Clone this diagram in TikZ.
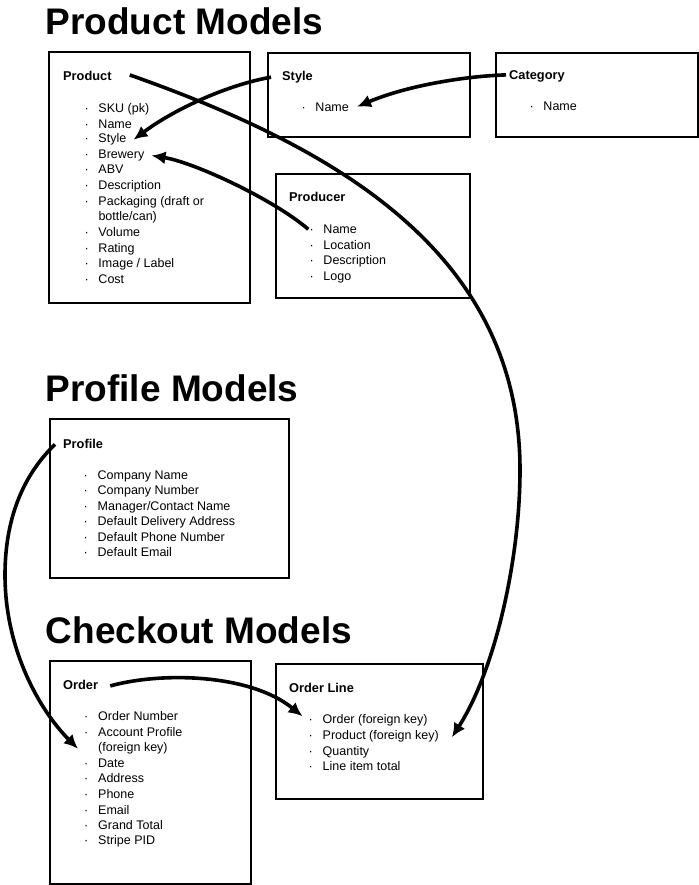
\documentclass[tikz,border=0pt]{standalone}
\usepackage{fontspec}
\setmainfont{Liberation Sans}
\usetikzlibrary{calc, arrows.meta}

\begin{document}
\begin{tikzpicture}[x=1pt,y=-1pt,inner sep=1pt,>={Latex[length=14pt,width=13pt]},
  heading/.style={anchor=base west,font=\bfseries\fontsize{37}{40}\selectfont},
  box/.style={draw,line width=1.9pt,anchor=north west,inner sep=0pt},
  title/.style={anchor=base west,font=\bfseries\fontsize{12.8}{15}\selectfont},
  field/.style={anchor=base west,font=\fontsize{12.5}{15}\selectfont,execute at begin node={\makebox[14pt][l]{·}}},
  wrap/.style={anchor=base west,font=\fontsize{12.5}{15}\selectfont},
  link/.style={->,line width=3.6pt}]
\useasboundingbox (0,0) rectangle (698,885);

% product models
\node [heading] (HProduct) at (44.5,34.5) {Product Models};
\node [box,minimum width=201pt,minimum height=251pt] (ProductBox) at (48,51) {};
\node [box,minimum width=202pt,minimum height=84pt] (StyleBox) at (267,52) {};
\node [box,minimum width=202pt,minimum height=84pt] (CategoryBox) at (495,52) {};
\node [box,minimum width=194pt,minimum height=124pt] (ProducerBox) at (275,173) {};

\node [title] (PTitle) at (62,80.5) {Product};
\node [field] (PSku)   at (83.3,113)   {SKU (pk)};
\node [field] (PName)  at (83.3,128.5) {Name};
\node [field] (PStyle) at (83.3,143)   {Style};
\node [field] (PBrew)  at (83.3,158.5) {Brewery};
\node [field] (PAbv)   at (83.3,174)   {ABV};
\node [field] (PDesc)  at (83.3,189.5) {Description};
\node [field] (PPack)  at (83.3,205.5) {Packaging (draft or};
\node [wrap]  (PPack2) at (97.3,221)   {bottle/can)};
\node [field] (PVol)   at (83.3,236.5) {Volume};
\node [field] (PRate)  at (83.3,252)   {Rating};
\node [field] (PImg)   at (83.3,267.5) {Image / Label};
\node [field] (PCost)  at (83.3,283)   {Cost};

\node [title] (STitle) at (281,80.5) {Style};
\node [field] (SName)  at (300.3,112) {Name};

\node [title] (CTitle) at (508,80) {Category};
\node [field] (CName)  at (528.3,111) {Name};

\node [title] (PrTitle) at (288,201.5) {Producer};
\node [field] (PrName)  at (308.3,233.5) {Name};
\node [field] (PrLoc)   at (308.3,249)   {Location};
\node [field] (PrDesc)  at (308.3,264.5) {Description};
\node [field] (PrLogo)  at (308.3,280)   {Logo};

% profile models
\node [heading] (HProfile) at (44.5,401.5) {Profile Models};
\node [box,minimum width=239pt,minimum height=159pt] (ProfileBox) at (49,418) {};
\node [title] (PrfTitle) at (62,448) {Profile};
\node [field] (PrfCo)    at (82.5,479.5) {Company Name};
\node [field] (PrfNum)   at (82.5,494.5) {Company Number};
\node [field] (PrfMgr)   at (82.5,510)   {Manager/Contact Name};
\node [field] (PrfAddr)  at (82.5,525.8) {Default Delivery Address};
\node [field] (PrfPhone) at (82.5,541)   {Default Phone Number};
\node [field] (PrfMail)  at (82.5,556.8) {Default Email};

% checkout models
\node [heading] (HCheckout) at (44.5,643) {Checkout Models};
\node [box,minimum width=201pt,minimum height=223pt] (OrderBox) at (49,660) {};
\node [box,minimum width=207pt,minimum height=135pt] (LineBox) at (275,663) {};

\node [title] (OTitle) at (62,689.5) {Order};
\node [field] (ONum)   at (83,720)   {Order Number};
\node [field] (OAcct)  at (83,736)   {Account Profile};
\node [wrap]  (OFk)    at (97,751)   {(foreign key)};
\node [field] (ODate)  at (83,767)   {Date};
\node [field] (OAddr)  at (83,782)   {Address};
\node [field] (OPhone) at (83,798)   {Phone};
\node [field] (OMail)  at (83,814)   {Email};
\node [field] (OTotal) at (83,829)   {Grand Total};
\node [field] (OStripe) at (83,844.5) {Stripe PID};

\node [title] (OLTitle) at (288,692.8) {Order Line};
\node [field] (OLOrder) at (307.5,723.5) {Order (foreign key)};
\node [field] (OLProd)  at (307.5,739.5) {Product (foreign key)};
\node [field] (OLQty)   at (307.5,755)   {Quantity};
\node [field] (OLTotal) at (307.5,770.5) {Line item total};

% links
\coordinate (swing) at (520,470);
\coordinate (loop) at (5,575);
\draw [link] ($(STitle.west)+(-10,0)$) .. controls ($(STitle.west)+(-55,8)$) and ($(PStyle.east)+(46,-30)$) .. ($(PStyle.east)+(6,0)$);
\draw [link] ($(CTitle.west)+(-2,-2)$) .. controls ($(CTitle.west)+(-39,-1)$) and ($(SName.east)+(59,-23)$) .. ($(SName.east)+(7,-1)$);
\draw [link] (PrName.west) .. controls ($(PrName.west)+(-35,-30)$) and ($(PBrew.east)+(49,7)$) .. ($(PBrew.east)+(6,0)$);
\draw [link] ($(PTitle.east)+(17,-1)$) .. controls ($(PTitle.east)+(218,70)$) and ($(swing)+(0,-220)$) .. (swing)
  .. controls ($(swing)+(0,90)$) and ($(OLProd.east)+(55,-66)$) .. ($(OLProd.east)+(12,1)$);
\draw [link] ($(PrfTitle.west)+(-7,1)$) .. controls ($(PrfTitle.west)+(-33,26)$) and ($(loop)+(0,-65)$) .. (loop)
  .. controls ($(loop)+(0,75)$) and ($(OFk.west)+(-57,-37)$) .. ($(OFk.west)+(-19,1)$);
\draw [link] ($(OTitle.east)+(11,1)$) .. controls ($(OTitle.east)+(61,-13)$) and ($(OLOrder.west)+(-58,-47)$) .. ($(OLOrder.west)+(-5,-4)$);
\end{tikzpicture}
\end{document}
